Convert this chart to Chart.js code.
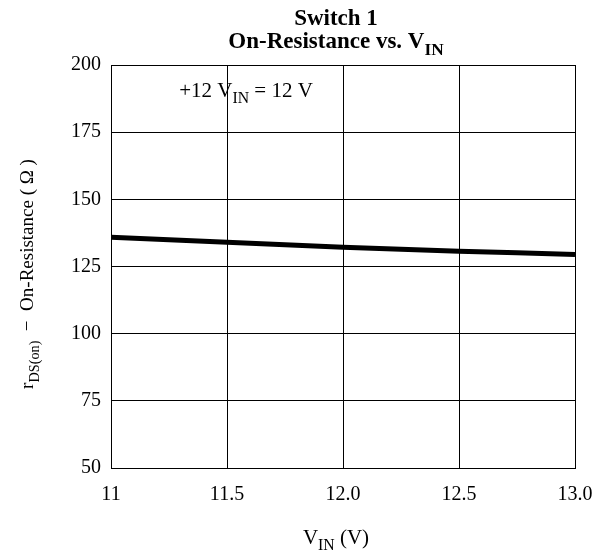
<!DOCTYPE html>
<html>
<head>
<meta charset="utf-8">
<script src="https://cdn.jsdelivr.net/npm/chart.js@4"></script>
<style>
  body { margin: 0; background: #fff; }
  #wrap { width: 611px; height: 554px; }
</style>
</head>
<body>
<div id="wrap"><canvas id="chart"></canvas></div>
<script>
// Data
const vin = [11, 11.5, 12.0, 12.5, 13.0];
const rdsOn = [135.9, 134.0, 132.2, 130.7, 129.5];
const xTicks = ['11', '11.5', '12.0', '12.5', '13.0'];
const yTicks = [50, 75, 100, 125, 150, 175, 200];

const serif = '"Liberation Serif", "Times New Roman", serif';

// draws a run of text pieces, some as subscripts
function drawRich(ctx, parts, x, y, size, bold) {
    const w = f => (bold ? 'bold ' : '') + f + 'px ' + serif;
    let total = 0;
    parts.forEach(p => {
        ctx.font = w(p.sub ? size * 0.75 : size);
        total += ctx.measureText(p.t).width;
    });
    let cx = x - total / 2;
    ctx.textAlign = 'left';
    ctx.textBaseline = 'alphabetic';
    parts.forEach(p => {
        ctx.font = w(p.sub ? size * 0.75 : size);
        ctx.fillText(p.t, cx, p.sub ? y + size * 0.3 : y);
        cx += ctx.measureText(p.t).width;
    });
}

const labelsPlugin = {
    id: 'labels',
    afterDraw(c) {
        const ctx = c.ctx;
        const mid = 336;
        ctx.save();
        ctx.fillStyle = '#000';
        drawRich(ctx, [{ t: 'Switch 1' }], mid, 25, 23, true);
        drawRich(ctx, [{ t: 'On-Resistance vs. V' }, { t: 'IN', sub: true }], mid, 48, 23, true);
        drawRich(ctx, [{ t: '+12 V' }, { t: 'IN', sub: true }, { t: ' = 12 V' }], 246, 97, 21, false);
        drawRich(ctx, [{ t: 'V' }, { t: 'IN', sub: true }, { t: ' (V)' }], mid, 544, 21, false);
        ctx.translate(33, 274);
        ctx.rotate(-Math.PI / 2);
        drawRich(ctx, [{ t: 'r' }, { t: 'DS(on)', sub: true }, { t: '  \u2212  On-Resistance ( \u03A9 )' }], 0, 0, 19, false);
        ctx.restore();
    }
};

const ctx = document.getElementById('chart').getContext('2d');
const chart = new Chart(ctx, {
    type: 'line',
    data: {
        datasets: [{
            data: vin.map((v, i) => ({ x: v, y: rdsOn[i] })),
            borderColor: '#000',
            borderWidth: 5,
            pointRadius: 0,
            tension: 0.4,
            fill: false
        }]
    },
    options: {
        responsive: true,
        maintainAspectRatio: false,
        animation: false,
        layout: { padding: { top: 65, right: 36, left: 0, bottom: 0 } },
        plugins: { legend: { display: false }, tooltip: { enabled: false } },
        scales: {
            x: {
                type: 'linear',
                min: 11, max: 13,
                afterFit: s => { s.height = 86; },
                afterBuildTicks: s => { s.ticks = vin.map(v => ({ value: v })); },
                grid: { color: '#000', lineWidth: 1, drawTicks: false },
                border: { color: '#000', width: 1 },
                ticks: {
                    color: '#000',
                    padding: 15,
                    maxRotation: 0,
                    font: { family: serif, size: 20 },
                    callback: (v, i) => xTicks[i]
                }
            },
            y: {
                min: 50, max: 200,
                afterFit: s => { s.width = 111; },
                afterBuildTicks: s => { s.ticks = yTicks.map(v => ({ value: v })); },
                grid: { color: '#000', lineWidth: 1, drawTicks: false },
                border: { color: '#000', width: 1 },
                ticks: {
                    color: '#000',
                    padding: 10,
                    font: { family: serif, size: 20 }
                }
            }
        }
    },
    plugins: [labelsPlugin]
});
</script>
</body>
</html>
